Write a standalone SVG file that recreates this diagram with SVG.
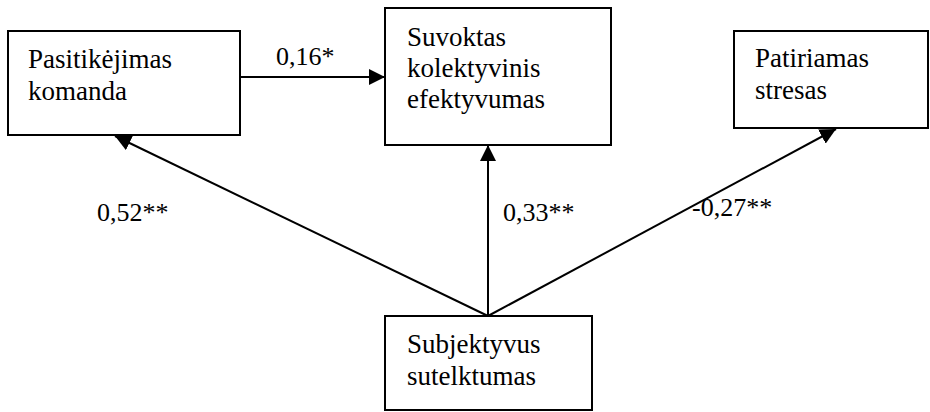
<svg xmlns="http://www.w3.org/2000/svg" width="930" height="412" viewBox="0 0 930 412">
<defs>
<style>
.box{fill:#fff;stroke:#000;stroke-width:2}
.t{font-family:'Liberation Serif',Tinos,'Times New Roman','Nimbus Roman','FreeSerif','DejaVu Serif',serif;font-size:27px;fill:#000}
.lbl{font-family:'Liberation Serif',Tinos,'Times New Roman','Nimbus Roman','FreeSerif','DejaVu Serif',serif;font-size:26px;fill:#000}
.c{stroke:#000;stroke-width:2;fill:none;marker-end:url(#ah)}
</style>
<marker id="ah" viewBox="0 0 10 10" refX="10" refY="5" markerWidth="8" markerHeight="8" markerUnits="strokeWidth" orient="auto">
<path d="M0,0 L10,5 L0,10 Z" fill="#000"/>
</marker>
</defs>
<g id="connectors">
<line class="c" x1="240" y1="77" x2="385" y2="77"/>
<line class="c" x1="488" y1="316" x2="488" y2="145"/>
<line class="c" x1="488" y1="316" x2="115" y2="136"/>
<line class="c" x1="488" y1="316" x2="836" y2="129"/>
<text class="lbl" x="276" y="65">0,16*</text>
<text class="lbl" x="97" y="221">0,52**</text>
<text class="lbl" x="503" y="221">0,33**</text>
<text class="lbl" x="692" y="216">-0,27**</text>
</g>
<g id="n1">
<rect class="box" x="8" y="31" width="232" height="104"/>
<text class="t" x="28" y="68">Pasitikėjimas</text>
<text class="t" x="28" y="100">komanda</text>
</g>
<g id="n2">
<rect class="box" x="385" y="8" width="226" height="137"/>
<text class="t" x="407" y="46">Suvoktas</text>
<text class="t" x="407" y="77">kolektyvinis</text>
<text class="t" x="407" y="108">efektyvumas</text>
</g>
<g id="n3">
<rect class="box" x="734" y="31" width="194" height="97"/>
<text class="t" x="755" y="67">Patiriamas</text>
<text class="t" x="755" y="99">stresas</text>
</g>
<g id="n4">
<rect class="box" x="385" y="316" width="207" height="94"/>
<text class="t" x="407" y="353">Subjektyvus</text>
<text class="t" x="407" y="385">sutelktumas</text>
</g>
</svg>
